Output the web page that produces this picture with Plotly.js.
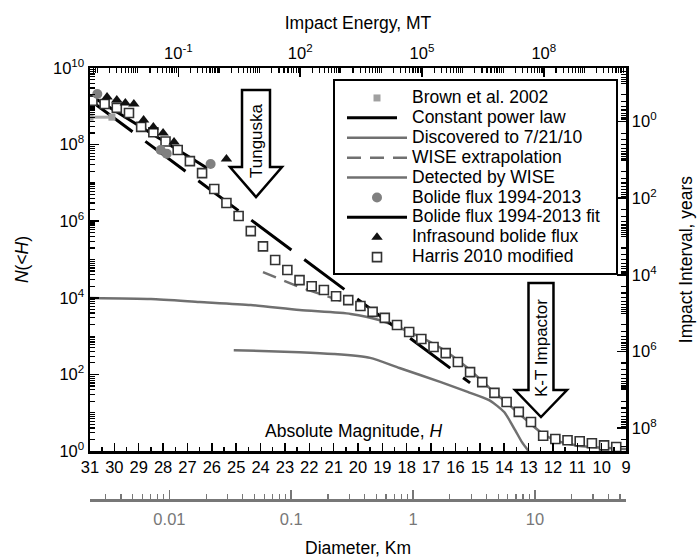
<!DOCTYPE html>
<html><head><meta charset="utf-8">
<script src="https://cdn.plot.ly/plotly-3.0.1.min.js"></script>
<style>
html,body{margin:0;padding:0;background:#fff}
/* legend rows are laid out for 13px text (tight row pitch as in the reference), text shown larger */
#chart .infolayer .legend text.legendtext{font-size:17.5px !important}
#chart .infolayer .legend .scrollbox{clip-path:none !important}
</style>
</head><body>
<div id="chart" style="width:700px;height:558px"></div>
<script>
// ---------------- data ----------------
const harrisH = [30.9,30.4,29.9,29.4,28.9,28.4,27.9,27.4,26.9,26.4,25.9,25.4,24.9,24.4,23.9,23.4,22.9,22.4,21.9,21.4,20.9,20.4,19.9,19.4,18.9,18.4,17.9,17.4,16.9,16.4,15.9,15.4,14.9,14.4,13.9,13.4,12.9,12.4,11.9,11.4,10.9,10.4,9.9,9.4];
const harrisN = [1.4e9,1.15e9,9.1e8,6.7e8,2.9e8,2.1e8,1.2e8,7.2e7,3.7e7,1.8e7,6.9e6,3.0e6,1.37e6,5.5e5,2.2e5,9.7e4,5.3e4,2.9e4,2.0e4,1.6e4,1.1e4,8.7e3,6.1e3,4.3e3,3.0e3,1.95e3,1.28e3,840,520,360,210,115,63,33,19,10.5,5.7,2.5,2.05,1.9,1.8,1.6,1.4,1.27];

const infraH = [30.3,29.9,29.55,29.2,28.8,28.4,28.0,27.55,25.4];
const infraN = [1.75e9,1.45e9,1.22e9,1.15e9,4.4e8,2.9e8,2.0e8,1.17e8,4.2e7];

const bolideH = [30.7,28.1,27.85,26.05];
const bolideN = [2.1e9,7.2e7,5.8e7,3.1e7];

const bolideFitH = [31.0,26.2];
const bolideFitN = [1.95e9,2.45e7];

const powerLawH = [30.9,15.4];
const powerLawN = [1.3e9,60];

const discoveredH = [31.0,28.5,26.5,24.4,22.4,20.3,19.1,17.9,16.6,15.5,14.6,13.8,13.1,12.5,11.9,10.9,9.0];
const discoveredN = [9.9e3,9.3e3,7.8e3,6.5e3,4.8e3,3.8e3,2.6e3,1.29e3,490,147,44,16,6.5,3.1,1.9,1.35,1.13];

const wiseDetH = [25.1,22.4,21.0,19.5,18.3,16.6,15.5,14.6,14.0,13.55,13.27,13.0];
const wiseDetN = [430,380,340,270,147,63,35,21,10.4,3.5,1.7,1.0];

const wiseExtH = [23.9,22.4,20.7];
const wiseExtN = [4.7e4,1.9e4,8.3e3];

const brownH = [31.0,30.1];
const brownN = [5.2e8,5.2e8];

// axis tick labels
const hRange = [31, 9];
const nDecades = [0,2,4,6,8,10];
const intervalDecades = [0,2,4,6,8];
const energyDecades = [-1,2,5,8];
const diameterTicks = [0.01,0.1,1,10];
const diameterLabels = ['0.01','0.1','1','10'];

// ---------------- helpers ----------------
const FONT = 'Liberation Sans, Arial, Helvetica, sans-serif';
const PL = 90, PR = 626, PT = 68, PB = 451, PD = 500;
const px = x => (x - PL) / (PR - PL);
const py = y => (PD - y) / (PD - PT);
const pow10 = e => Math.pow(10, e);
const supText = e => '10<sup>' + e + '</sup>';
// minor ticks: digits 2..9 of every decade plus the decades that carry no label
function minorVals(lo, hi, labelled){
  const v = [];
  for(let e = lo; e <= hi; e++){
    if(!labelled.includes(e)) v.push(pow10(e));
    for(let m = 2; m < 10; m++) v.push(m * pow10(e));
  }
  return v;
}
function arrow(cx, top, sw, sb, hw, tip){
  const p = [[cx-sw/2,top],[cx+sw/2,top],[cx+sw/2,sb],[cx+hw/2,sb],[cx,tip],[cx-hw/2,sb],[cx-sw/2,sb]];
  return 'M' + p.map(q => px(q[0]).toFixed(4)+','+py(q[1]).toFixed(4)).join(' L') + ' Z';
}

const GREY = '#707070';
const traces = [
  {name:'Brown et al. 2002', x:brownH, y:brownN, mode:'lines', line:{color:'#a8a8a8', width:3}, showlegend:false, legendgroup:'brown'},
  {name:'Discovered to 7/21/10', x:discoveredH, y:discoveredN, mode:'lines', line:{color:GREY, width:2.5, shape:'spline', smoothing:0.6}, legendrank:3},
  {name:'Detected by WISE', x:wiseDetH, y:wiseDetN, mode:'lines', line:{color:GREY, width:2.5, shape:'spline', smoothing:0.6}, legendrank:5},
  {name:'WISE extrapolation', x:wiseExtH, y:wiseExtN, mode:'lines', line:{color:GREY, width:2.5, dash:'14px,9px'}, legendrank:4},
  {name:'Constant power law', x:powerLawH, y:powerLawN, mode:'lines', line:{color:'#000', width:3, dash:'50px,16px'}, legendrank:2},
  {name:'Bolide flux 1994-2013 fit', x:bolideFitH, y:bolideFitN, mode:'lines', line:{color:'#000', width:3}, legendrank:7},
  {name:'Harris 2010 modified', x:harrisH, y:harrisN, mode:'markers', marker:{symbol:'square', size:9, color:'#fff', line:{color:'#333', width:1.6}}, legendrank:9},
  {name:'Brown et al. 2002', x:brownH, y:brownN, mode:'markers', marker:{symbol:'square', size:7, color:'#a0a0a0'}, legendgroup:'brown', legendrank:1},
  {name:'Bolide flux 1994-2013', x:bolideH, y:bolideN, mode:'markers', marker:{symbol:'circle', size:10, color:'#808080'}, legendrank:6},
  {name:'Infrasound bolide flux', x:infraH, y:infraN, mode:'markers', marker:{symbol:'triangle-up', size:10, color:'#111'}, legendrank:8},
  {x:[], y:[], xaxis:'x2', yaxis:'y', showlegend:false, hoverinfo:'skip'},
  {x:[], y:[], xaxis:'x', yaxis:'y2', showlegend:false, hoverinfo:'skip'},
  {x:[], y:[], xaxis:'x3', yaxis:'y', showlegend:false, hoverinfo:'skip'}
];

const common = {showgrid:false, zeroline:false, showline:true, linecolor:'#000', linewidth:2.5, ticks:'inside', tickcolor:'#000', tickwidth:1.5, tickfont:{family:FONT, size:16.5, color:'#000'}};
const titleFont = {family:FONT, size:17.5, color:'#000'};
const minorStyle = {ticks:'inside', ticklen:5, tickmode:'array', tickwidth:1.2, tickcolor:'#000'};

const layout = {
  width:700, height:558,
  margin:{l:PL, r:700-PR, t:PT, b:558-PD, pad:0},
  paper_bgcolor:'#fff', plot_bgcolor:'#fff',
  font:{family:FONT, size:16.5, color:'#000'},
  showlegend:true,
  legend:{x:px(342), y:py(83), xanchor:'left', yanchor:'top', bgcolor:'rgba(0,0,0,0)', borderwidth:0,
          font:{family:FONT, size:13, color:'#000'}, itemwidth:60, tracegroupgap:0, traceorder:'normal'},
  xaxis:Object.assign({}, common, {type:'linear', range:hRange, domain:[0,1], anchor:'y', side:'bottom',
          dtick:1, tick0:0, ticklen:8, minor:{ticks:'inside', ticklen:4, dtick:0.5, tickwidth:1.5, tickcolor:'#000'}}),
  yaxis:Object.assign({}, common, {type:'log', range:[0,10], domain:[py(PB),1], anchor:'x', side:'left',
          tickmode:'array', tickvals:nDecades.map(pow10), ticktext:nDecades.map(supText), ticklen:9,
          minor:Object.assign({}, minorStyle, {tickvals:minorVals(0,9,nDecades)}),
          title:{text:'<i>N</i>(&lt;<i>H</i>)', font:titleFont, standoff:20}}),
  yaxis2:Object.assign({}, common, {type:'log', range:[8.6,-1.4], overlaying:'y', anchor:'x', side:'right',
          tickmode:'array', tickvals:intervalDecades.map(pow10), ticktext:intervalDecades.map(supText), ticklen:9,
          minor:Object.assign({}, minorStyle, {tickvals:minorVals(-2,8,intervalDecades)}),
          title:{text:'Impact Interval, years', font:titleFont, standoff:24}}),
  xaxis2:Object.assign({}, common, {type:'log', range:[-3.176,10.024], overlaying:'x', anchor:'y', side:'top',
          tickmode:'array', tickvals:energyDecades.map(pow10), ticktext:energyDecades.map(supText), ticklen:9,
          minor:Object.assign({}, minorStyle, {tickvals:minorVals(-4,10,energyDecades)}),
          title:{text:'Impact Energy, MT', font:titleFont, standoff:8}}),
  xaxis3:Object.assign({}, common, {type:'log', range:[-2.652,1.748], overlaying:'x', anchor:'free', position:0, side:'bottom',
          linecolor:'#777', tickcolor:'#777', tickfont:{family:FONT, size:16.5, color:'#777'},
          tickmode:'array', tickvals:diameterTicks, ticktext:diameterLabels, ticklen:9, ticklabelstandoff:4,
          minor:Object.assign({}, minorStyle, {ticklen:5, tickcolor:'#777', tickvals:minorVals(-3,1,[-2,-1,0,1])}),
          title:{text:'Diameter, Km', font:titleFont}}),
  shapes:[
    {type:'rect', xref:'paper', yref:'paper', x0:px(334), x1:px(617), y0:py(274), y1:py(80), line:{color:'#000', width:2}, fillcolor:'#fff', layer:'above'},
    {type:'path', xref:'paper', yref:'paper', path:arrow(256,90,28,167,52,197), line:{color:'#000', width:2.5}, fillcolor:'#fff', layer:'above'},
    {type:'path', xref:'paper', yref:'paper', path:arrow(541,283,25,390,52,417), line:{color:'#000', width:2.5}, fillcolor:'#fff', layer:'above'}
  ],
  annotations:[
    {text:'Tunguska', xref:'paper', yref:'paper', x:px(256), y:py(141), xanchor:'center', yanchor:'middle', textangle:-90, showarrow:false, font:{family:FONT, size:17, color:'#000'}},
    {text:'K-T Impactor', xref:'paper', yref:'paper', x:px(541), y:py(348), xanchor:'center', yanchor:'middle', textangle:-90, showarrow:false, font:{family:FONT, size:17, color:'#000'}},
    {text:'Absolute Magnitude, <i>H</i>', xref:'paper', yref:'paper', x:px(353), y:py(431), xanchor:'center', yanchor:'middle', showarrow:false, font:{family:FONT, size:17.5, color:'#000'}}
  ]
};

Plotly.newPlot('chart', traces, layout, {displayModeBar:false, staticPlot:true}).then(() => {
  // drop Plotly's off-screen text-measuring helper once drawing is done
  const tester = document.getElementById('js-plotly-tester');
  if (tester) tester.remove();
});
</script>
</body></html>
